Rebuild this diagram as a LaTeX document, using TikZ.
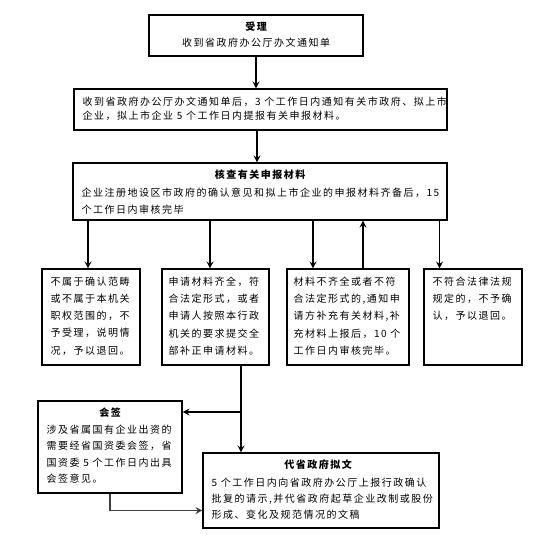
\documentclass[tikz,border=0pt]{standalone}
\usepackage{fontspec}
\setmainfont[LetterSpace=15]{Noto Sans CJK SC}
\usetikzlibrary{arrows.meta}
\begin{document}
\begin{tikzpicture}[x=1pt,y=-1pt,
  box/.style={draw, line width=1.1pt, inner sep=0pt},
  body/.style={anchor=north west, inner sep=0pt, align=left},
  head/.style={anchor=north, inner sep=0pt, font=\fontsize{10}{12}\selectfont\bfseries},
  arr/.style={line width=1.6pt, -{Stealth[length=7pt,width=7pt,inset=2.5pt]}}]
\fill[white] (0,0) rectangle (553,541);
\useasboundingbox (0,0) rectangle (553,541);
% boxes
\node[box, minimum width=214pt, minimum height=41pt] (b1) at (256,35.5) {};
\node[box, minimum width=373pt, minimum height=41pt] (b2) at (260.5,109.5) {};
\node[box, minimum width=374pt, minimum height=57pt] (b3) at (260,191.5) {};
\node[box, minimum width=98pt, minimum height=96pt] (b4a) at (91,317) {};
\node[box, minimum width=107pt, minimum height=96pt] (b4b) at (215.5,317) {};
\node[box, minimum width=122pt, minimum height=96pt] (b4c) at (348,317) {};
\node[box, minimum width=98pt, minimum height=96pt] (b4d) at (473,317) {};
\node[box, minimum width=144pt, minimum height=92pt] (b5) at (110,447) {};
\node[box, minimum width=236pt, minimum height=75pt] (b6) at (321,490.5) {};
% texts
\node[head] (h1) at ([yshift=-7.4pt]b1.north) {受理};
\node[anchor=north, inner sep=0pt, font=\fontsize{10}{12}\selectfont] (t1) at ([yshift=-23.4pt]b1.north) {收到省政府办公厅办文通知单};
\node[body, font=\fontsize{10}{13.5}\selectfont] (t2) at ([xshift=9pt,yshift=-8.4pt]b2.north west)
  {收到省政府办公厅办文通知单后，3 个工作日内通知有关市政府、拟上市\\企业，拟上市企业 5 个工作日内提报有关申报材料。};
\node[head] (h3) at ([yshift=-7.4pt]b3.north) {核查有关申报材料};
\node[body, font=\fontsize{10}{16.5}\selectfont] (t3) at ([xshift=9pt,yshift=-25.4pt]b3.north west)
  {企业注册地设区市政府的确认意见和拟上市企业的申报材料齐备后，15\\个工作日内审核完毕};
\node[body, font=\fontsize{10}{17.3}\selectfont] (t4a) at ([xshift=9pt,yshift=-8pt]b4a.north west)
  {不属于确认范畴\\或不属于本机关\\职权范围的，不\\予受理，说明情\\况，予以退回。};
\node[body, font=\fontsize{10}{17.3}\selectfont] (t4b) at ([xshift=7pt,yshift=-8pt]b4b.north west)
  {申请材料齐全，符\\合法定形式，或者\\申请人按照本行政\\机关的要求提交全\\部补正申请材料。};
\node[body, font=\fontsize{10}{17.3}\selectfont] (t4c) at ([xshift=7pt,yshift=-8pt]b4c.north west)
  {材料不齐全或者不符\\合法定形式的,通知申\\请方补充有关材料,补\\充材料上报后，10 个\\工作日内审核完毕。};
\node[body, font=\fontsize{10}{17.3}\selectfont] (t4d) at ([xshift=9pt,yshift=-8pt]b4d.north west)
  {不符合法律法规\\规定的，不予确\\认，予以退回。};
\node[head] (h5) at ([yshift=-7.4pt]b5.north) {会签};
\node[body, font=\fontsize{10}{16.3}\selectfont] (t5) at ([xshift=9pt,yshift=-24.4pt]b5.north west)
  {涉及省属国有企业出资的\\需要经省国资委会签，省\\国资委 5 个工作日内出具\\会签意见。};
\node[head] (h6) at ([xshift=-3pt,yshift=-7.4pt]b6.north) {代省政府拟文};
\node[body, font=\fontsize{10}{16}\selectfont] (t6) at ([xshift=9pt,yshift=-25.4pt]b6.north west)
  {5 个工作日内向省政府办公厅上报行政确认\\批复的请示,并代省政府起草企业改制或股份\\形成、变化及规范情况的文稿};
% connectors
\draw[arr] (b1.south) -- (b1.south |- b2.north);
\draw[arr] ([xshift=-3.5pt]b2.south) -- ([xshift=-3.5pt]b2.south |- b3.north);
\draw[arr] ([xshift=-3pt]b4a.north |- b3.south) -- ([xshift=-3pt]b4a.north);
\draw[arr] ([xshift=-5.5pt]b4b.north |- b3.south) -- ([xshift=-5.5pt]b4b.north);
\draw[arr] ([xshift=-35pt]b4c.north |- b3.south) -- ([xshift=-35pt]b4c.north);
\draw[arr] ([xshift=15pt]b4c.north) -- ([xshift=15pt]b4c.north |- b3.south);
\draw[arr] ([xshift=-33.5pt]b4d.north |- b3.south) -- ([xshift=-33.5pt]b4d.north);
\draw[arr] ([xshift=25.5pt]b4b.south) -- ([xshift=25.5pt]b4b.south |- b6.north);
\coordinate (jx) at ([xshift=25.5pt]b4b.south);
\coordinate (b5in) at ([yshift=35pt]b5.east);
\draw[arr] (jx |- b5in) -- (b5in);
\coordinate (b6in) at ([yshift=-20pt]b6.west);
\draw[arr, black!75] (b5.south) |- (b6in);
\end{tikzpicture}
\end{document}
